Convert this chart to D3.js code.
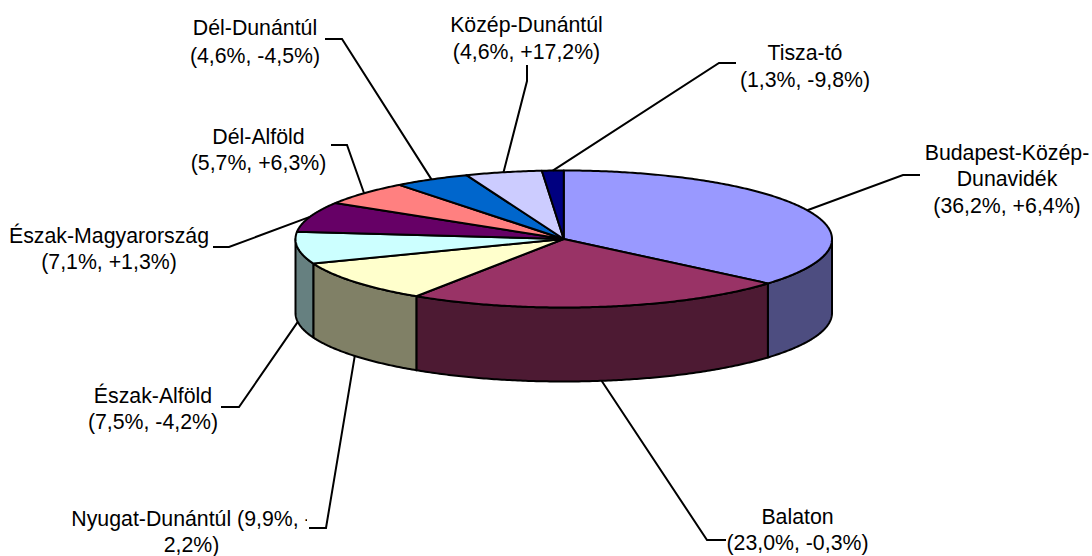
<!DOCTYPE html>
<html>
<head>
<meta charset="utf-8">
<script src="https://cdn.jsdelivr.net/npm/d3@7"></script>
<style>
  html, body { margin: 0; padding: 0; background: #fff; }
  svg { display: block; }
  text { font-family: "Liberation Sans", Arial, sans-serif; font-size: 21.3px; fill: #000; text-anchor: middle; }
</style>
</head>
<body>
<div id="chart"></div>
<script>
// 3D pie: share of guest nights by region, (share, change) in the labels
const regions = ['Budapest-Közép-Dunavidék', 'Balaton', 'Nyugat-Dunántúl', 'Észak-Alföld',
  'Észak-Magyarország', 'Dél-Alföld', 'Dél-Dunántúl', 'Közép-Dunántúl', 'Tisza-tó'];
const shares = [36.2, 23.0, 9.9, 7.5, 7.1, 5.7, 4.6, 4.6, 1.3];
const labelLines = [
  ['Budapest-Közép-', 'Dunavidék', '(36,2%, +6,4%)'],
  ['Balaton', '(23,0%, -0,3%)'],
  ['Nyugat-Dunántúl (9,9%, -', '2,2%)'],
  ['Észak-Alföld', '(7,5%, -4,2%)'],
  ['Észak-Magyarország', '(7,1%, +1,3%)'],
  ['Dél-Alföld', '(5,7%, +6,3%)'],
  ['Dél-Dunántúl', '(4,6%, -4,5%)'],
  ['Közép-Dunántúl', '(4,6%, +17,2%)'],
  ['Tisza-tó', '(1,3%, -9,8%)'],
];
const topColors  = ['#9999ff', '#993366', '#ffffcc', '#ccffff', '#660066', '#ff8080', '#0066cc', '#ccccff', '#000080'];
const sideColors = ['#4d4d80', '#4d1a33', '#808066', '#668080', '#330033', '#804040', '#003366', '#666680', '#000040'];

// label placement: text centre, first baseline, line gap, leader elbow and leader end
const layout = [
  { x: 1007, y: 160, gap: 26.3, elbow: [903, 175], end: [920, 175] },
  { x: 797.5, y: 524, gap: 25.5, elbow: [707, 540], end: [726, 540] },
  { x: 191.5, y: 526, gap: 26, elbow: [326, 528], end: [309, 528], clipRight: 307 },
  { x: 153,  y: 403, gap: 26, elbow: [239, 407], end: [221, 407] },
  { x: 109,  y: 243, gap: 26, elbow: [229, 247], end: [213, 247] },
  { x: 258.5, y: 144, gap: 26, elbow: [347, 145], end: [331, 145] },
  { x: 255,  y: 35,  gap: 27.5, elbow: [342, 39],  end: [325, 39] },
  { x: 526.5, y: 32, gap: 27, elbow: [527, 81],  end: [527, 65] },
  { x: 805,  y: 60,  gap: 27, elbow: [719, 63],  end: [736, 63] },
];

const W = 1092, H = 556;
const depth = 74;

const x = d3.scaleLinear().domain([-1, 1]).range([295.5, 832]);
const y = d3.scaleLinear().domain([-1, 1]).range([170.5, 307.5]);

const px = (a, drop = 0) => [x(Math.sin(a)), y(-Math.cos(a)) + drop];

const line = d3.line();
const arcs = d3.pie().sort(null)(shares);

function anglesBetween(a0, a1) {
  const n = Math.max(2, Math.ceil((a1 - a0) / 0.01));
  return d3.range(n + 1).map(i => a0 + (a1 - a0) * i / n);
}

const svg = d3.select('#chart').append('svg')
  .attr('width', W)
  .attr('height', H)
  .attr('viewBox', `0 0 ${W} ${H}`);

svg.append('defs').append('clipPath')
  .attr('id', 'clip-nyugat')
  .append('rect')
  .attr('x', 0).attr('y', 0)
  .attr('width', layout[2].clipRight)
  .attr('height', H);

// only the front half of the rim is visible
const visible = arcs
  .map((d, i) => ({ i, a0: Math.max(d.startAngle, Math.PI / 2), a1: Math.min(d.endAngle, Math.PI * 1.5) }))
  .filter(d => d.a1 > d.a0);

svg.append('g').selectAll('path')
  .data(visible)
  .join('path')
  .attr('d', d => {
    const as = anglesBetween(d.a0, d.a1);
    return line(as.map(a => px(a)).concat(as.slice().reverse().map(a => px(a, depth)))) + 'Z';
  })
  .attr('fill', d => sideColors[d.i])
  .attr('stroke', '#000')
  .attr('stroke-width', 2)
  .attr('stroke-linejoin', 'round');

svg.append('g').selectAll('path')
  .data(arcs)
  .join('path')
  .attr('d', d => line([[x(0), y(0)]].concat(anglesBetween(d.startAngle, d.endAngle).map(a => px(a)))) + 'Z')
  .attr('fill', (d, i) => topColors[i])
  .attr('stroke', '#000')
  .attr('stroke-width', 2)
  .attr('stroke-linejoin', 'round');

// leaders start on the outer edge at the middle of the slice
svg.append('g').selectAll('path')
  .data(arcs)
  .join('path')
  .attr('d', (d, i) => {
    const mid = (d.startAngle + d.endAngle) / 2;
    const front = mid > Math.PI / 2 && mid < Math.PI * 1.5;
    return line([px(mid, front ? depth : 0), layout[i].elbow, layout[i].end]);
  })
  .attr('fill', 'none')
  .attr('stroke', '#000')
  .attr('stroke-width', 2);

const labels = svg.append('g').selectAll('text')
  .data(regions)
  .join('text')
  .attr('clip-path', (d, i) => layout[i].clipRight ? 'url(#clip-nyugat)' : null)
  .attr('y', (d, i) => layout[i].y);

labels.selectAll('tspan')
  .data((d, i) => labelLines[i].map((t, k) => ({ t, k, i })))
  .join('tspan')
  .attr('x', d => layout[d.i].x)
  .attr('dy', d => d.k ? layout[d.i].gap : 0)
  .text(d => d.t);
</script>
</body>
</html>
